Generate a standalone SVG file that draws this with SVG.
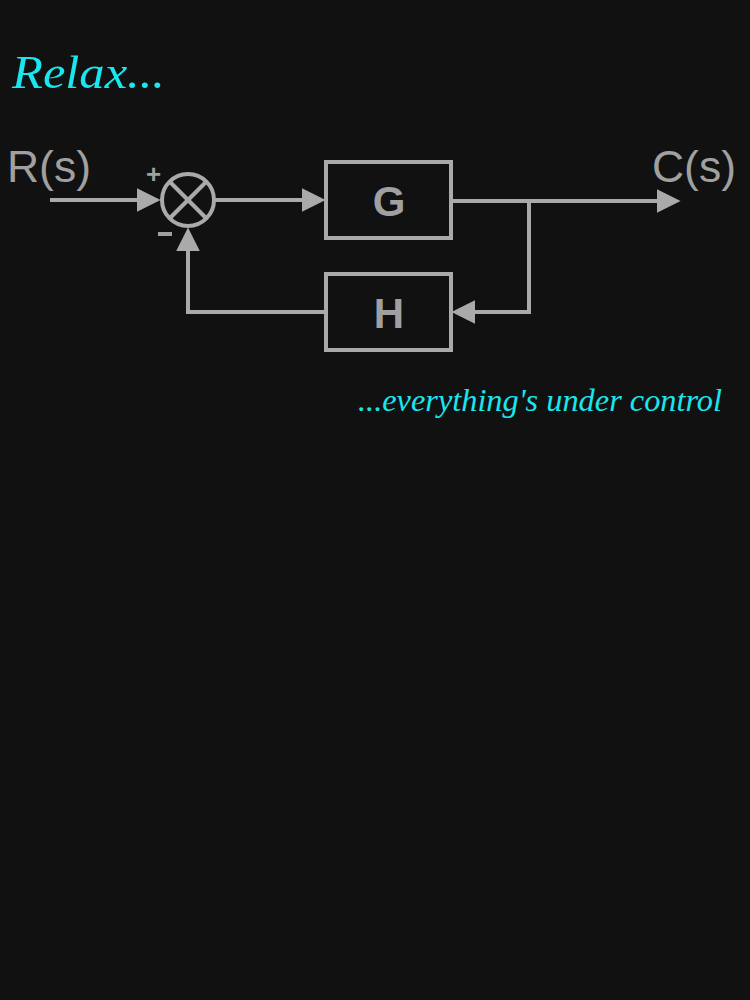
<svg xmlns="http://www.w3.org/2000/svg" width="750" height="1000" viewBox="0 0 750 1000">
<style>
.ln{stroke:#aaaaaa;stroke-width:4;fill:none}
.bx{stroke:#aaaaaa;stroke-width:4;fill:#111111}
.lbl{font-family:"Liberation Sans",Arial,sans-serif;fill:#a0a0a0}
.cy{font-family:"Liberation Serif",serif;font-style:italic;fill:#19e6ee}
</style>
<defs>
<marker id="ar" viewBox="0 0 10 10" refX="6" refY="5" markerWidth="6" markerHeight="6" markerUnits="strokeWidth" orient="auto"><path d="M0,0L10,5L0,10z" fill="#aaaaaa"/></marker>
</defs>
<rect width="750" height="1000" fill="#111111"/>
<text class="cy" x="12" y="88" font-size="46" textLength="153" lengthAdjust="spacingAndGlyphs">Relax...</text>
<text class="cy" x="358" y="411" font-size="31" textLength="364" lengthAdjust="spacingAndGlyphs">...everything's under control</text>
<text class="lbl" x="7" y="182" font-size="44" textLength="84" lengthAdjust="spacingAndGlyphs">R(s)</text>
<text class="lbl" x="652" y="182" font-size="44" textLength="84" lengthAdjust="spacingAndGlyphs">C(s)</text>
<g id="connectors">
<line class="ln" x1="50" y1="200" x2="151" y2="200" marker-end="url(#ar)"/>
<line class="ln" x1="215" y1="200" x2="316" y2="200" marker-end="url(#ar)"/>
<line class="ln" x1="451" y1="201" x2="671" y2="201" marker-end="url(#ar)"/>
<polyline class="ln" points="529,201 529,312 461,312" marker-end="url(#ar)"/>
<polyline class="ln" points="326,312 188,312 188,237" marker-end="url(#ar)"/>
</g>
<g id="sum">
<circle class="bx" cx="188" cy="200" r="26"/>
<line class="ln" x1="170" y1="182" x2="206" y2="218"/>
<line class="ln" x1="206" y1="182" x2="170" y2="218"/>
<text class="lbl" x="146" y="183" font-size="26" font-weight="bold">+</text>
<rect x="158" y="232" width="14" height="4" fill="#a0a0a0"/>
</g>
<g id="G"><rect class="bx" x="326" y="162" width="125" height="76"/><text class="lbl" x="389" y="216" font-size="42" font-weight="bold" text-anchor="middle">G</text></g>
<g id="H"><rect class="bx" x="326" y="274" width="125" height="76"/><text class="lbl" x="389" y="328" font-size="42" font-weight="bold" text-anchor="middle">H</text></g>
</svg>
